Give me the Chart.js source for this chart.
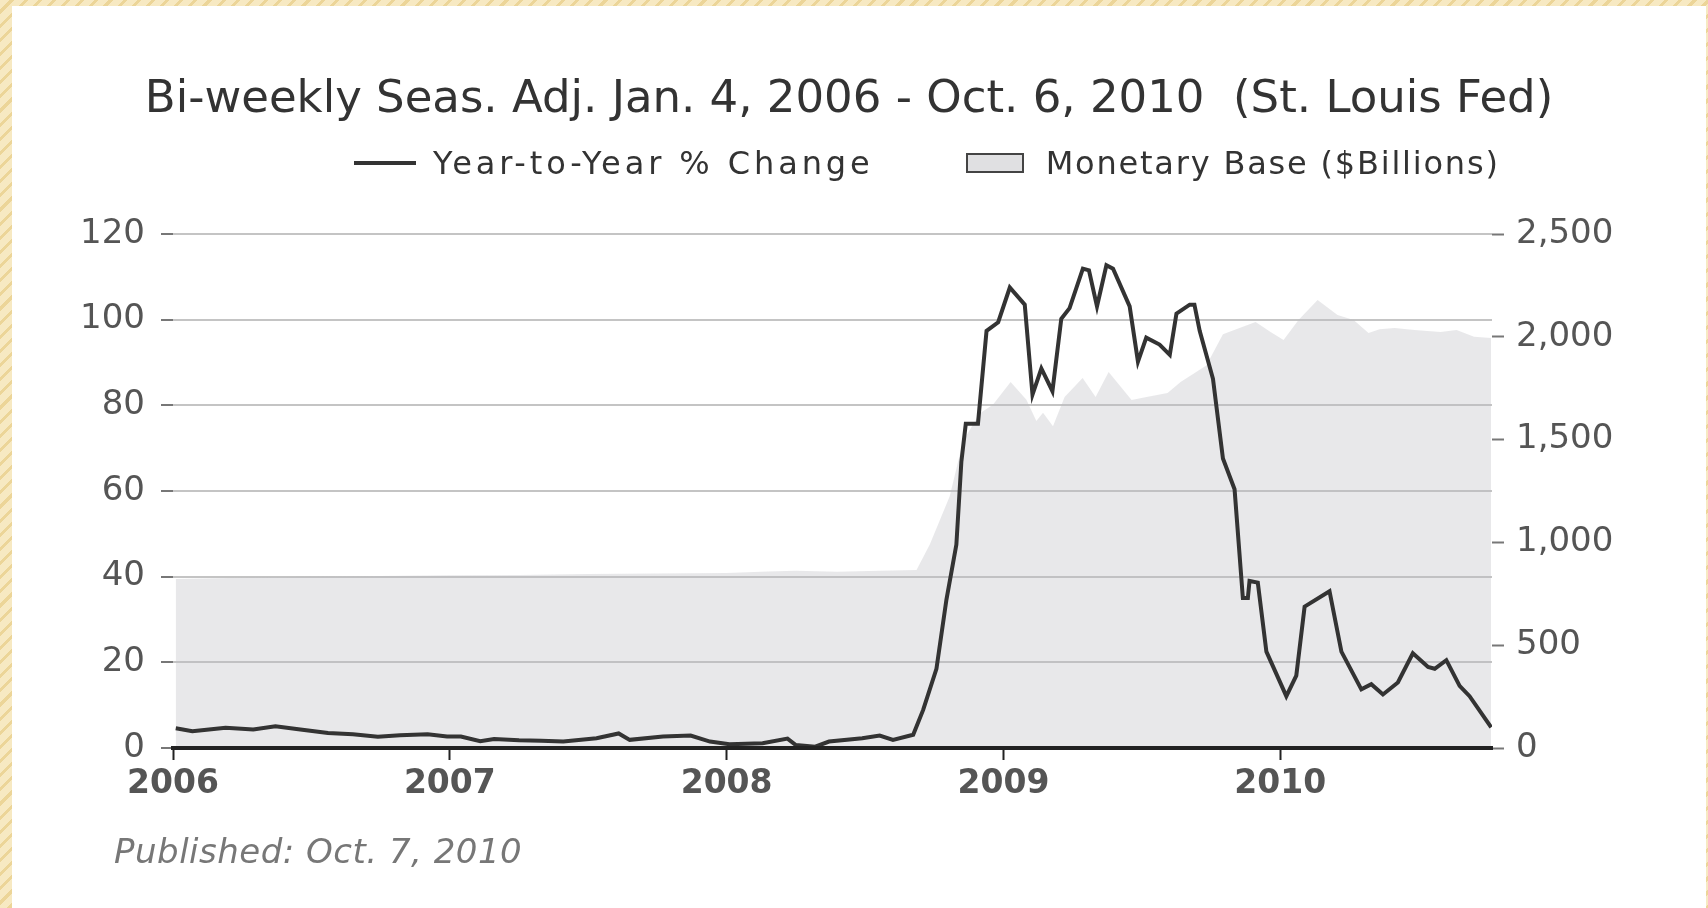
<!DOCTYPE html>
<html>
<head>
<meta charset="utf-8">
<title>Monetary Base, St. Louis Fed</title>
<script src="https://cdn.jsdelivr.net/npm/chart.js@4.4.1/dist/chart.umd.min.js"></script>
<style>
  html, body { margin: 0; padding: 0; }
  body {
    width: 1708px; height: 908px; overflow: hidden; position: relative;
    background: repeating-linear-gradient(135deg, #f7e9c2 0px, #f7e9c2 7px, #ecd598 7px, #ecd598 10px);
  }
  #panel { position: absolute; left: 12px; top: 6px; right: 2px; bottom: 0; background: #fff; }
  #chart { position: absolute; left: 0; top: 0; }
  #legend {
    position: absolute; left: 354px; top: 143px;
    display: flex; align-items: center;
    font-family: 'DejaVu Sans', sans-serif; font-size: 32px; line-height: 40px;
    color: #333; white-space: nowrap;
  }
  .item { display: flex; align-items: center; letter-spacing: 1.8px; }
  .item:first-child { letter-spacing: 3.9px; }
  .item + .item { margin-left: 92px; }
  .stroke { display: inline-block; width: 62px; height: 4px; margin-right: 17px; }
  .swatch { display: inline-block; width: 58px; height: 20px; box-sizing: border-box; border: 2px solid #444; margin-right: 22px; }
  #note {
    position: absolute; left: 114px; top: 831px;
    font-family: 'DejaVu Sans', sans-serif; font-style: italic; font-size: 34px; line-height: 40px;
    letter-spacing: 0.5px; color: #777; white-space: nowrap;
  }
</style>
</head>
<body>
<div id="panel"></div>
<canvas id="chart" width="1708" height="908"></canvas>
<div id="legend"></div>
<div id="note">Published: Oct. 7, 2010</div>
<script>
// x positions are decimal years (bi-weekly readings, Jan 4 2006 - Oct 6 2010)
const yearTicks = [2006, 2007, 2008, 2009, 2010];
const pctTicks = [0, 20, 40, 60, 80, 100, 120];
const baseTicks = [0, 500, 1000, 1500, 2000, 2500];

// Year-to-Year % Change (left axis)
const changeYears = [
  2006.01, 2006.07, 2006.13, 2006.19, 2006.29, 2006.37, 2006.46, 2006.56, 2006.65, 2006.74,
  2006.82, 2006.92, 2006.99, 2007.04, 2007.11, 2007.16, 2007.25, 2007.33, 2007.41, 2007.53,
  2007.61, 2007.65, 2007.77, 2007.87, 2007.94, 2008.01, 2008.13, 2008.22, 2008.25, 2008.32,
  2008.37, 2008.49, 2008.553, 2008.601, 2008.674, 2008.710, 2008.758, 2008.794, 2008.830, 2008.848,
  2008.864, 2008.908, 2008.939, 2008.981, 2009.023, 2009.077, 2009.105, 2009.137, 2009.177, 2009.209,
  2009.239, 2009.287, 2009.309, 2009.338, 2009.372, 2009.396, 2009.456, 2009.486, 2009.516, 2009.564,
  2009.601, 2009.625, 2009.673, 2009.690, 2009.709, 2009.757, 2009.793, 2009.835, 2009.865, 2009.883,
  2009.889, 2009.919, 2009.950, 2010.022, 2010.058, 2010.088, 2010.178, 2010.221, 2010.293, 2010.329,
  2010.371, 2010.425, 2010.479, 2010.534, 2010.558, 2010.600, 2010.648, 2010.684, 2010.762
];
const changeValues = [
  4.6, 3.9, 4.3, 4.7, 4.3, 5.1, 4.3, 3.5, 3.2, 2.6,
  3.0, 3.2, 2.7, 2.7, 1.6, 2.1, 1.8, 1.7, 1.5, 2.3,
  3.4, 1.9, 2.7, 2.9, 1.5, 0.9, 1.1, 2.2, 0.7, 0.3,
  1.5, 2.3, 2.9, 1.9, 3.1, 8.9, 18.5, 34.6, 47.5, 66.8,
  75.7, 75.7, 97.4, 99.4, 107.5, 103.5, 82.5, 88.6, 83.3, 100.2,
  102.7, 111.9, 111.5, 103.1, 112.7, 111.9, 103.1, 90.2, 95.8, 94.2,
  91.8, 101.4, 103.5, 103.5, 97.4, 86.2, 67.6, 60.4, 35.0, 35.0,
  39.0, 38.6, 22.5, 12.1, 16.9, 33.0, 36.6, 22.5, 13.7, 14.9,
  12.5, 15.3, 22.1, 18.9, 18.5, 20.5, 14.5, 12.1, 4.8
];

// Monetary Base, $ billions (right axis)
const baseYears = [
  2006.01, 2006.25, 2006.50, 2006.75, 2007.00, 2007.25, 2007.50, 2007.75, 2008.00, 2008.15,
  2008.25, 2008.40, 2008.553, 2008.686, 2008.734, 2008.806, 2008.854, 2008.914, 2008.962, 2009.026,
  2009.083, 2009.119, 2009.143, 2009.179, 2009.221, 2009.286, 2009.333, 2009.380, 2009.463, 2009.517,
  2009.593, 2009.640, 2009.733, 2009.793, 2009.853, 2009.911, 2009.965, 2010.012, 2010.066, 2010.135,
  2010.207, 2010.265, 2010.319, 2010.359, 2010.413, 2010.485, 2010.579, 2010.637, 2010.700, 2010.762
];
const baseValues = [
  822, 828, 833, 836, 840, 842, 846, 849, 851, 858,
  862, 857, 862, 866, 990, 1224, 1492, 1627, 1669, 1780,
  1694, 1590, 1630, 1565, 1707, 1800, 1707, 1829, 1693, 1707,
  1727, 1780, 1861, 2012, 2043, 2072, 2023, 1984, 2082, 2179,
  2106, 2082, 2018, 2037, 2043, 2033, 2023, 2033, 2000, 1994
];

Chart.defaults.font.family = "'DejaVu Sans', sans-serif";
Chart.defaults.color = '#555';

function toPoints(xs, ys) {
  return xs.map((x, i) => ({ x: x, y: ys[i] }));
}

// legend built as html from the datasets
const htmlLegend = {
  id: 'htmlLegend',
  afterUpdate(chart) {
    const box = document.getElementById('legend');
    box.innerHTML = '';
    chart.data.datasets.forEach(ds => {
      const item = document.createElement('div');
      item.className = 'item';
      const mark = document.createElement('span');
      if (ds.fill) {
        mark.className = 'swatch';
        mark.style.background = '#e0e0e2';
      } else {
        mark.className = 'stroke';
        mark.style.background = ds.borderColor;
      }
      const text = document.createElement('span');
      text.textContent = ds.label;
      item.appendChild(mark);
      item.appendChild(text);
      box.appendChild(item);
    });
  }
};

new Chart(document.getElementById('chart'), {
  type: 'line',
  data: {
    datasets: [
      {
        label: 'Year-to-Year % Change',
        data: toPoints(changeYears, changeValues),
        yAxisID: 'y',
        borderColor: '#333333',
        borderWidth: 4,
        pointRadius: 0,
        fill: false,
        order: 1
      },
      {
        label: 'Monetary Base ($Billions)',
        data: toPoints(baseYears, baseValues),
        yAxisID: 'y2',
        borderWidth: 0,
        backgroundColor: 'rgba(189,189,194,0.35)',
        pointRadius: 0,
        fill: 'origin',
        order: 2
      }
    ]
  },
  options: {
    responsive: false,
    animation: false,
    locale: 'en-US',
    layout: { padding: { left: 74, right: 84, top: 0, bottom: 100 } },
    plugins: {
      legend: { display: false },
      tooltip: { enabled: false },
      title: {
        display: true,
        text: 'Bi-weekly Seas. Adj. Jan. 4, 2006 - Oct. 6, 2010  (St. Louis Fed)',
        color: '#333',
        font: { size: 45, weight: 'normal' },
        padding: { top: 73, bottom: 107 }
      }
    },
    scales: {
      x: {
        type: 'linear',
        min: 2006,
        max: 2010.765,
        afterBuildTicks: s => { s.ticks = yearTicks.map(v => ({ value: v })); },
        afterFit: s => { s.height = 60; },
        ticks: {
          callback: v => String(v),
          font: { size: 33, weight: 'bold' },
          color: '#555',
          padding: 5,
          maxRotation: 0,
          autoSkip: false
        },
        grid: { drawOnChartArea: false, tickLength: 12, tickColor: '#222', tickWidth: 2 },
        border: { color: '#222', width: 4, z: 1 }
      },
      y: {
        position: 'left',
        min: 0,
        max: 120,
        afterBuildTicks: s => { s.ticks = pctTicks.map(v => ({ value: v })); },
        afterFit: s => { s.width = 99; },
        ticks: { font: { size: 34 }, color: '#555', padding: 16 },
        grid: { color: '#c4c4c4', lineWidth: 2, tickLength: 12, tickColor: '#777', tickWidth: 2 },
        border: { display: false }
      },
      y2: {
        position: 'right',
        min: 0,
        max: 2500,
        afterBuildTicks: s => { s.ticks = baseTicks.map(v => ({ value: v })); },
        afterFit: s => { s.width = 132; },
        ticks: { font: { size: 34 }, color: '#555', padding: 12 },
        grid: { drawOnChartArea: false, tickLength: 12, tickColor: '#777', tickWidth: 2 },
        border: { display: false }
      }
    }
  },
  plugins: [htmlLegend]
});
</script>
</body>
</html>
